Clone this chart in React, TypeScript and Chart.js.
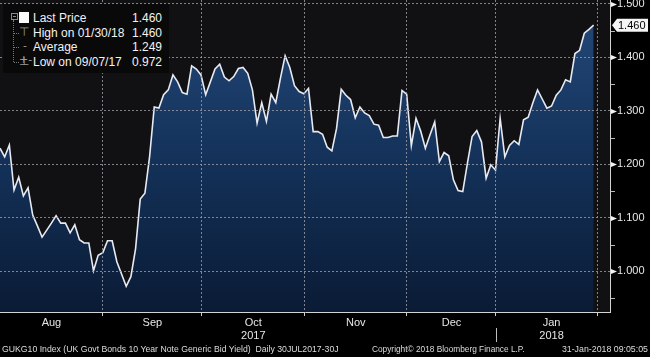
import React, { useEffect, useRef } from 'react';
import { Chart, registerables } from 'chart.js';

Chart.register(...registerables);

// Daily GUKG10 closing yields, 31 Jul 2017 .. 30 Jan 2018 (trading days)
const yieldValues: number[] = [
  1.230, 1.214, 1.236, 1.152, 1.176, 1.141, 1.156, 1.105, 1.085, 1.064,
  1.077, 1.090, 1.104, 1.090, 1.090, 1.072, 1.087, 1.059, 1.053, 1.053,
  1.001, 1.030, 1.035, 1.057, 1.057, 1.018, 0.995, 0.972, 0.990, 1.042,
  1.135, 1.146, 1.214, 1.307, 1.305, 1.330, 1.339, 1.367, 1.354, 1.334,
  1.331, 1.384, 1.378, 1.367, 1.330, 1.354, 1.378, 1.387, 1.363, 1.356,
  1.364, 1.379, 1.381, 1.370, 1.339, 1.277, 1.315, 1.280, 1.331, 1.315,
  1.361, 1.403, 1.381, 1.347, 1.336, 1.332, 1.342, 1.261, 1.261, 1.256,
  1.232, 1.225, 1.267, 1.340, 1.329, 1.321, 1.287, 1.307, 1.296, 1.291,
  1.275, 1.273, 1.250, 1.250, 1.253, 1.253, 1.338, 1.331, 1.235, 1.286,
  1.262, 1.230, 1.255, 1.279, 1.205, 1.222, 1.216, 1.171, 1.151, 1.149,
  1.202, 1.252, 1.263, 1.242, 1.174, 1.199, 1.189, 1.286, 1.214, 1.235,
  1.244, 1.237, 1.283, 1.288, 1.315, 1.339, 1.322, 1.305, 1.309, 1.329,
  1.339, 1.358, 1.354, 1.407, 1.413, 1.445, 1.452, 1.460,
];

// month boundaries, in trading-day index units
const monthBoundaries: number[] = [22.03, 43.2, 65.24, 87.06, 106.1, 127.9];
const monthLabels: string[] = ['Aug', 'Sep', 'Oct', 'Nov', 'Dec', 'Jan'];
const monthLabelIndex: number[] = [11, 32.6, 54.2, 76.1, 96.6, 118];
const yearLabels: string[] = ['', '', '2017', '', '', '2018'];
const yearBoundaryIndex = 4; // Jan boundary -> separator
const xMaxIndex = 130.5;

const yTickValues: number[] = [0.95, 1.0, 1.05, 1.1, 1.15, 1.2, 1.25, 1.3, 1.35, 1.4, 1.45, 1.5];
const yMin = 0.924;
const yMax = 1.507;

const legendLabels: string[] = ['Last Price', 'High on 01/30/18', 'Average', 'Low on 09/07/17'];

const footerLeft = 'GUKG10 Index (UK Govt Bonds 10 Year Note Generic Bid Yield)  Daily 30JUL2017-30J';
const footerMid = 'Copyright\u00A9 2018 Bloomberg Finance L.P.';
const footerRight = '31-Jan-2018 09:05:05';

const FONT = '"Liberation Sans", Arial, sans-serif';

const isMajor = (v: number) => Math.abs(v * 10 - Math.round(v * 10)) < 1e-6;
const near = (a: number, b: number) => Math.abs(a - b) < 1e-6;

export default function App() {
  const canvasRef = useRef<HTMLCanvasElement | null>(null);

  const lastVal = yieldValues[yieldValues.length - 1];
  const highVal = Math.max(...yieldValues);
  const lowVal = Math.min(...yieldValues);
  const avgVal = yieldValues.reduce((a, b) => a + b, 0) / yieldValues.length;
  const legendValues = [lastVal, highVal, avgVal, lowVal].map((v) => v.toFixed(3));

  useEffect(() => {
    const canvas = canvasRef.current;
    if (!canvas) return;

    const gridColor = 'rgba(150,150,160,0.85)';

    const decor = {
      id: 'decor',
      beforeDraw(chart: any) {
        const { ctx, chartArea: ca } = chart;
        ctx.save();
        ctx.fillStyle = '#111113';
        ctx.fillRect(ca.left, ca.top, ca.right - ca.left, ca.bottom - ca.top);
        ctx.restore();
      },
      afterDraw(chart: any) {
        const { ctx, chartArea: ca, scales } = chart;
        const ys = scales.y;
        const xs = scales.x;
        ctx.save();
        ctx.lineWidth = 1;
        ctx.strokeStyle = '#d4d4d4';
        ctx.beginPath();
        ctx.moveTo(Math.round(ca.right) + 0.5, ca.top);
        ctx.lineTo(Math.round(ca.right) + 0.5, ca.bottom + 1);
        ctx.moveTo(ca.left, Math.round(ca.bottom) + 0.5);
        ctx.lineTo(Math.round(ca.right) + 1, Math.round(ca.bottom) + 0.5);
        ctx.stroke();

        // y ticks: arrows on majors, short lines on minors
        ys.ticks.forEach((t: any) => {
          const py = Math.round(ys.getPixelForValue(t.value)) + 0.5;
          const rx = Math.round(ca.right) + 1;
          if (isMajor(t.value)) {
            ctx.fillStyle = '#f2f2f2';
            ctx.beginPath();
            ctx.moveTo(rx, py - 2.5);
            ctx.lineTo(rx + 6, py);
            ctx.lineTo(rx, py + 2.5);
            ctx.closePath();
            ctx.fill();
          } else {
            ctx.strokeStyle = '#b8b8b8';
            ctx.beginPath();
            ctx.moveTo(rx, py);
            ctx.lineTo(rx + 4, py);
            ctx.stroke();
          }
        });

        // last price marker
        const lp = ys.getPixelForValue(lastVal);
        const lx = Math.round(ca.right) + 2;
        ctx.fillStyle = '#f5f5f5';
        ctx.beginPath();
        ctx.moveTo(lx, lp);
        ctx.lineTo(lx + 5, lp - 6.5);
        ctx.lineTo(648, lp - 6.5);
        ctx.lineTo(648, lp + 6.5);
        ctx.lineTo(lx + 5, lp + 6.5);
        ctx.closePath();
        ctx.fill();
        ctx.fillStyle = '#000';
        ctx.font = `11px ${FONT}`;
        ctx.textBaseline = 'middle';
        ctx.textAlign = 'left';
        ctx.fillText(lastVal.toFixed(3), lx + 6, lp + 0.5);

        // year separator
        const sx = Math.round(xs.getPixelForValue(monthBoundaries[yearBoundaryIndex])) + 0.5;
        ctx.strokeStyle = '#bdbdbd';
        ctx.beginPath();
        ctx.moveTo(sx, ca.bottom + 16);
        ctx.lineTo(sx, ca.bottom + 30);
        ctx.stroke();
        ctx.restore();
      },
    };

    const chart = new Chart(canvas, {
      type: 'line',
      data: {
        datasets: [
          {
            data: yieldValues.map((v, i) => ({ x: i, y: v })),
            borderColor: '#e8eaf2',
            borderWidth: 1.6,
            pointRadius: 0,
            tension: 0,
            fill: 'start',
            backgroundColor: (c: any) => {
              const ca = c.chart.chartArea;
              if (!ca) return '#173358';
              const g = c.chart.ctx.createLinearGradient(0, ca.top, 0, ca.bottom);
              g.addColorStop(0, '#24497a');
              g.addColorStop(0.5, '#14325a');
              g.addColorStop(1, '#0a1b35');
              return g;
            },
          },
        ],
      },
      options: {
        responsive: false,
        animation: false,
        layout: { padding: 0 },
        plugins: { legend: { display: false }, tooltip: { enabled: false }, title: { display: false } },
        scales: {
          x: {
            type: 'linear',
            min: 0,
            max: xMaxIndex,
            afterBuildTicks: (scale: any) => {
              const all = [...monthBoundaries, ...monthLabelIndex].sort((a, b) => a - b);
              scale.ticks = all.map((v) => ({ value: v }));
            },
            afterFit: (scale: any) => {
              scale.height = 45;
              scale.paddingLeft = 0;
              scale.paddingRight = 0;
            },
            ticks: {
              autoSkip: false,
              maxRotation: 0,
              minRotation: 0,
              padding: 0,
              color: '#e6e6e6',
              font: { size: 11, family: FONT, lineHeight: 1.2 },
              callback: (_v: any, idx: number, ticks: any[]) => {
                const val = ticks[idx].value;
                const m = monthLabelIndex.findIndex((p) => near(p, val));
                if (m < 0) return '';
                return yearLabels[m] ? [monthLabels[m], yearLabels[m]] : monthLabels[m];
              },
            },
            grid: {
              z: 1,
              drawTicks: true,
              tickLength: 4,
              color: (c: any) =>
                c.tick && monthBoundaries.some((b) => near(b, c.tick.value)) ? gridColor : 'rgba(0,0,0,0)',
              tickColor: (c: any) =>
                c.tick && monthBoundaries.some((b) => near(b, c.tick.value)) ? '#cfcfcf' : 'rgba(0,0,0,0)',
            },
            border: { display: false, dash: [2, 2] },
          },
          y: {
            type: 'linear',
            position: 'right',
            min: yMin,
            max: yMax,
            afterBuildTicks: (scale: any) => {
              scale.ticks = yTickValues.map((v) => ({ value: v }));
            },
            afterFit: (scale: any) => {
              scale.width = 40;
              scale.paddingTop = 0;
              scale.paddingBottom = 0;
            },
            ticks: {
              padding: 7,
              color: '#e8e8e8',
              font: { size: 11, family: FONT },
              callback: (v: any) => (isMajor(Number(v)) ? Number(v).toFixed(3) : ''),
            },
            grid: {
              z: 1,
              drawTicks: false,
              color: (c: any) => (c.tick && isMajor(c.tick.value) ? gridColor : 'rgba(0,0,0,0)'),
            },
            border: { display: false, dash: [2, 2] },
          },
        },
      },
      plugins: [decor],
    } as any);

    return () => chart.destroy();
  }, []);

  const rowCenters = [17.5, 32.5, 47, 61.5];

  const footerStyle: React.CSSProperties = {
    position: 'absolute',
    top: 343,
    lineHeight: '12px',
    color: '#dcdcdc',
    whiteSpace: 'pre',
  };

  return (
    <div
      style={{
        position: 'fixed',
        left: 0,
        top: 0,
        width: 650,
        height: 357,
        background: '#000',
        overflow: 'hidden',
        fontFamily: FONT,
      }}
    >
      <canvas
        ref={canvasRef}
        width={650}
        height={357}
        style={{ position: 'absolute', left: 0, top: 0, width: 650, height: 357 }}
      />
      {/* legend box */}
      <div
        style={{
          position: 'absolute',
          left: 3,
          top: 4,
          width: 166,
          height: 69,
          background: '#09090a',
        }}
      >
        {/* collapse box */}
        <div
          style={{
            position: 'absolute',
            left: 8,
            top: 9,
            width: 5,
            height: 5,
            border: '1px solid #8a8a8a',
          }}
        >
          <div style={{ position: 'absolute', left: 1, top: 2, width: 3, height: 1, background: '#8a8a8a' }} />
        </div>
        {/* tree vertical */}
        <div
          style={{
            position: 'absolute',
            left: 10,
            top: 16,
            width: 0,
            height: 42,
            borderLeft: '1px dotted #777',
          }}
        />
        {[1, 2, 3].map((r) => (
          <div
            key={r}
            style={{
              position: 'absolute',
              left: 11,
              top: rowCenters[r] - 4,
              width: 5,
              height: 0,
              borderTop: '1px dotted #777',
            }}
          />
        ))}
        {/* icons */}
        <div style={{ position: 'absolute', left: 16, top: 8, width: 10, height: 11, background: '#fafafa' }} />
        <div
          style={{
            position: 'absolute',
            left: 16,
            top: rowCenters[1] - 12,
            width: 10,
            textAlign: 'center',
            color: '#9a9a9a',
            fontSize: 12,
            lineHeight: '14px',
            fontFamily: '"DejaVu Sans", sans-serif',
          }}
        >
          {'\u22A4'}
        </div>
        <div
          style={{
            position: 'absolute',
            left: 16,
            top: rowCenters[2] - 12,
            width: 12,
            textAlign: 'center',
            color: '#9a9a9a',
            fontSize: 11,
            lineHeight: '14px',
            fontFamily: '"DejaVu Sans", sans-serif',
          }}
        >
          {'-+-'}
        </div>
        <div
          style={{
            position: 'absolute',
            left: 16,
            top: rowCenters[3] - 12,
            width: 10,
            textAlign: 'center',
            color: '#9a9a9a',
            fontSize: 12,
            lineHeight: '14px',
            fontFamily: '"DejaVu Sans", sans-serif',
          }}
        >
          {'\u22A5'}
        </div>
        {legendLabels.map((lab, i) => (
          <React.Fragment key={lab}>
            <div
              style={{
                position: 'absolute',
                left: 30,
                top: rowCenters[i] - 4 - 7,
                height: 14,
                lineHeight: '14px',
                fontSize: 12,
                color: '#f2f2f2',
                whiteSpace: 'nowrap',
              }}
            >
              {lab}
            </div>
            <div
              style={{
                position: 'absolute',
                right: 7,
                top: rowCenters[i] - 4 - 7,
                height: 14,
                lineHeight: '14px',
                fontSize: 12,
                color: '#f2f2f2',
                whiteSpace: 'nowrap',
              }}
            >
              {legendValues[i]}
            </div>
          </React.Fragment>
        ))}
      </div>
      {/* footer */}
      <div style={{ ...footerStyle, left: 2, fontSize: 8.7 }}>{footerLeft}</div>
      <div style={{ ...footerStyle, left: 372, fontSize: 8.3 }}>{footerMid}</div>
      <div style={{ ...footerStyle, right: 2, fontSize: 8.8 }}>{footerRight}</div>
    </div>
  );
}
